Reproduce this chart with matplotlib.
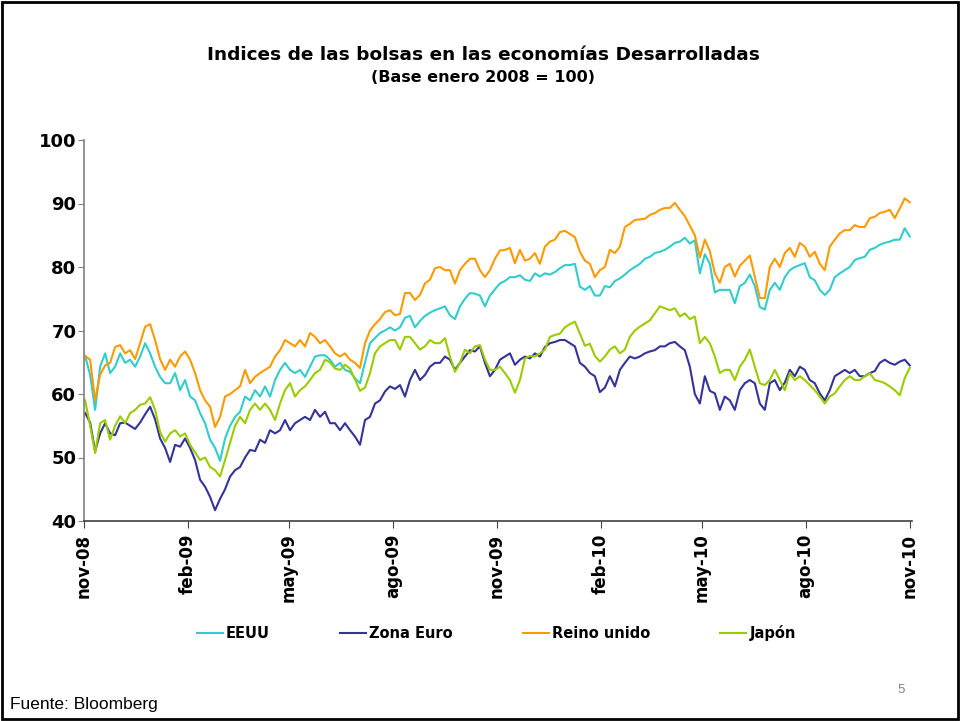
import matplotlib
matplotlib.use("Agg")
import matplotlib.pyplot as plt
import matplotlib.dates as mdates
from matplotlib.patches import Rectangle
import pandas as pd

plt.rcParams["font.family"] = ["DejaVu Sans"]

# roughly every 4.4 days, nov-08 .. nov-10
dates = pd.date_range("2008-11-02", "2010-11-01", periods=166)

eeuu = [
    66, 63, 57.5, 64.3, 66.4, 63.3, 64.3, 66.4, 64.9, 65.4,
    64.3, 65.9, 68, 66.4, 64.3, 62.7, 61.7, 61.7, 63.3, 60.6,
    62.2, 59.6, 59, 57, 55.4, 52.8, 51.5, 49.5, 53, 55,
    56.4, 57.2, 59.6, 59, 60.6, 59.6, 61.2, 59.6, 62.2, 63.8,
    64.9, 63.8, 63.3, 63.8, 62.7, 64.3, 65.9, 66.1, 66.1, 65.4,
    64.3, 64.9, 63.8, 63.5, 62.5, 61.7, 65, 68, 68.8, 69.6,
    70, 70.5, 70, 70.5, 72, 72.3, 70.5, 71.5, 72.3, 72.8,
    73.2, 73.5, 73.8, 72.4, 71.8, 73.8, 75, 75.9, 75.8, 75.5,
    73.8, 75.5, 76.5, 77.4, 77.8, 78.4, 78.4, 78.7, 78, 77.8,
    79, 78.5, 79, 78.8, 79.2, 79.8, 80.3, 80.3, 80.5, 76.9,
    76.4, 77, 75.5, 75.5, 77, 76.8, 77.8, 78.2, 78.8, 79.5,
    80, 80.5, 81.3, 81.6, 82.2, 82.4, 82.7, 83.2, 83.8, 84,
    84.6, 83.7, 84.2, 79, 82, 80.5, 76, 76.4, 76.4, 76.4,
    74.3, 77, 77.5, 78.8, 77, 73.7, 73.3, 76.4, 77.5, 76.4,
    78.4, 79.5, 80, 80.3, 80.6, 78.4, 77.9, 76.4, 75.6, 76.4,
    78.4, 79, 79.5, 80, 81.1, 81.4, 81.6, 82.7, 83, 83.5,
    83.8, 84, 84.3, 84.3, 86.1, 84.8,
]

zona_euro = [
    57, 55.5, 51, 53.8, 55.4, 53.8, 53.5, 55.4, 55.5, 55,
    54.5, 55.5, 56.8, 58, 56, 53, 51.5, 49.3, 52, 51.7,
    53, 51.5, 49.6, 46.5, 45.4, 43.8, 41.7, 43.5, 45, 47,
    48, 48.5, 50, 51.2, 51, 52.8, 52.3, 54.3, 53.8, 54.3,
    55.9, 54.3, 55.4, 55.9, 56.4, 55.9, 57.5, 56.4, 57.2, 55.4,
    55.4, 54.3, 55.4, 54.3, 53.3, 52, 55.9, 56.4, 58.5, 59,
    60.4, 61.2, 60.8, 61.4, 59.6, 62.2, 63.8, 62.2, 63, 64.3,
    64.9, 64.9, 65.9, 65.4, 63.8, 64.9, 65.9, 66.9, 66.7, 67.5,
    64.9, 62.8, 63.8, 65.4, 65.9, 66.4, 64.6, 65.4, 65.9, 65.6,
    66.4, 65.9, 67.4, 68, 68.2, 68.5, 68.5, 68, 67.5, 64.9,
    64.3, 63.3, 62.8, 60.3, 61, 62.8, 61.2, 63.8, 64.9, 65.9,
    65.6, 65.9, 66.4, 66.7, 66.9, 67.5, 67.5, 68, 68.2, 67.5,
    66.9, 64.3, 60, 58.5, 62.8, 60.5, 60.1, 57.5, 59.6, 59,
    57.5, 60.6, 61.7, 62.2, 61.7, 58.5, 57.5, 61.7, 62.2, 60.6,
    61.8, 63.8, 62.8, 64.3, 63.8, 62.2, 61.7, 60.1, 59, 60.6,
    62.8, 63.3, 63.8, 63.3, 63.8, 62.8, 62.8, 63.3, 63.6, 64.9,
    65.4, 64.9, 64.6, 65.1, 65.4, 64.5,
]

reino_unido = [
    66, 65.4, 59, 63, 64.5, 64.9, 67.4, 67.7, 66.4, 66.9,
    65.5, 68, 70.6, 71, 68.5, 65.5, 63.8, 65.4, 64.3, 65.9,
    66.7, 65.4, 63.3, 60.6, 59, 58, 54.8, 56.4, 59.6, 60,
    60.6, 61.2, 63.8, 61.7, 62.7, 63.3, 63.8, 64.3, 65.9, 66.9,
    68.5, 68, 67.5, 68.5, 67.5, 69.6, 69, 68, 68.5, 67.5,
    66.4, 65.9, 66.4, 65.4, 64.9, 64.1, 68, 70, 71, 71.8,
    72.9, 73.2, 72.4, 72.6, 75.9, 75.9, 74.8, 75.6, 77.4, 78,
    79.8, 80, 79.5, 79.5, 77.4, 79.5, 80.5, 81.3, 81.3, 79.5,
    78.4, 79.5, 81.3, 82.6, 82.7, 83, 80.6, 82.7, 81, 81.3,
    82.2, 80.5, 83.2, 84, 84.3, 85.5, 85.7, 85.2, 84.7, 82.4,
    81, 80.5, 78.4, 79.5, 80, 82.7, 82.2, 83.2, 86.3, 86.8,
    87.4, 87.5, 87.6, 88.2, 88.5, 89, 89.3, 89.3, 90.1, 89,
    88, 86.5, 85, 81.5, 84.3, 82.5, 79, 77.5, 80, 80.5,
    78.5, 80.2, 81, 81.8, 78.5, 75.1, 75.1, 80, 81.3, 80,
    82.2, 83, 81.6, 83.8, 83.2, 81.6, 82.4, 80.5, 79.5, 83.2,
    84.3, 85.3, 85.8, 85.8, 86.6, 86.3, 86.3, 87.7, 87.9, 88.5,
    88.7, 89, 87.7, 89.2, 90.8, 90.2,
]

japon = [
    59, 55, 50.7, 55.4, 55.9, 52.8, 55, 56.5, 55.4, 57,
    57.5, 58.3, 58.5, 59.5, 57.5, 54, 52.5, 53.8, 54.3, 53.3,
    53.8, 52, 50.8, 49.6, 50, 48.5, 48, 47, 49.6, 52.3,
    55, 56.4, 55.4, 57.5, 58.5, 57.5, 58.5, 57.5, 55.9, 58.5,
    60.6, 61.7, 59.6, 60.6, 61.2, 62.2, 63.3, 63.8, 65.4, 65,
    64, 63.8, 64.6, 64, 62.3, 60.5, 61, 63.3, 66.4, 67.5,
    68, 68.5, 68.5, 67, 69, 69, 68, 67, 67.5, 68.5,
    68, 68, 68.8, 65.9, 63.5, 64.9, 67, 66.4, 67.5, 67.7,
    65.4, 63.8, 63.8, 64.3, 63.3, 62.2, 60.2, 62.2, 65.6, 66,
    65.9, 66.4, 67, 69, 69.3, 69.5, 70.5, 71, 71.4, 69.5,
    67.6, 67.9, 66, 65.1, 65.9, 67, 67.5, 66.4, 67, 69,
    70, 70.6, 71.1, 71.6, 72.7, 73.8, 73.5, 73.2, 73.5, 72.2,
    72.7, 71.8, 72.2, 68, 69, 68, 65.9, 63.3, 63.8, 63.8,
    62.2, 64.3, 65.4, 67, 64.3, 61.7, 61.4, 62.2, 63.8, 62.2,
    60.6, 63.3, 62.2, 62.8, 62.2, 61.4, 60.6, 59.6, 58.5, 59.6,
    60.1, 61.2, 62.2, 62.8, 62.2, 62.2, 62.8, 63.3, 62.2, 62,
    61.7, 61.2, 60.6, 59.8, 62.5, 64.1,
]

series = [
    ("EEUU", eeuu, "#33CCCC"),
    ("Zona Euro", zona_euro, "#333399"),
    ("Reino unido", reino_unido, "#FF9900"),
    ("Japón", japon, "#99CC00"),
]

MESES = ["ene", "feb", "mar", "abr", "may", "jun",
         "jul", "ago", "sep", "oct", "nov", "dic"]


def fmt_mes(x, pos=None):
    d = mdates.num2date(x)
    return f"{MESES[d.month - 1]}-{d.year % 100:02d}"


fig = plt.figure(figsize=(9.6, 7.21), dpi=100)
ax = fig.add_axes([84 / 960, 1 - 521 / 721, 828 / 960, 381 / 721])

for name, vals, color in series:
    ax.plot(dates, vals, color=color, lw=1.5, label=name)

ax.set_ylim(40, 100)
ax.set_yticks(range(40, 101, 10))
ax.set_xlim(pd.Timestamp("2008-11-01"), pd.Timestamp("2010-11-03"))
ax.xaxis.set_major_locator(mdates.MonthLocator(bymonth=[2, 5, 8, 11]))
ax.xaxis.set_major_formatter(plt.FuncFormatter(fmt_mes))

for s in ("top", "right"):
    ax.spines[s].set_visible(False)
ax.spines["left"].set_color("#808080")
ax.spines["bottom"].set_color("#404040")
for s in ("left", "bottom"):
    ax.spines[s].set_linewidth(1.2)

ax.tick_params(axis="y", direction="out", length=4, color="#808080",
               labelsize=13, pad=1.5)
ax.tick_params(axis="x", direction="out", length=5, color="#404040",
               labelsize=12, pad=4, labelrotation=90)
for lab in ax.get_yticklabels() + ax.get_xticklabels():
    lab.set_fontweight("bold")

# titles
fig.text(0.504, 1 - 55 / 721, "Indices de las bolsas en las economías Desarrolladas",
         ha="center", va="center", fontsize=13.3, fontweight="bold")
fig.text(0.503, 1 - 78 / 721, "(Base enero 2008 = 100)",
         ha="center", va="center", fontsize=11.5, fontweight="bold")

leg = fig.legend(loc="center", bbox_to_anchor=(0.517, 1 - 633 / 721), ncol=4,
                 frameon=False, prop={"weight": "bold", "size": 10.5},
                 handlelength=1.8, handletextpad=0.2, columnspacing=4.8)

fig.text(10 / 960, 1 - 705 / 721, "Fuente: Bloomberg", ha="left", va="center",
         fontsize=12.5, family="Liberation Sans")
fig.text(897 / 960, 1 - 690 / 721, "5", ha="left", va="center",
         fontsize=9.5, color="#808080", family="Liberation Sans")

# slide border
fig.add_artist(Rectangle((0.002, 0.003), 0.996, 0.994, transform=fig.transFigure,
                         fill=False, lw=2, edgecolor="black"))

fig.savefig("out.png", dpi=100)
